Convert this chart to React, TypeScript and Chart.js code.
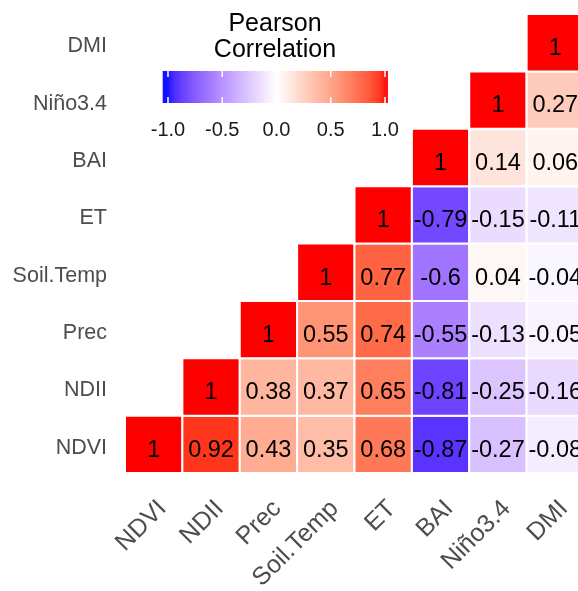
import React, { useEffect, useRef } from "react";
import { Chart, registerables } from "chart.js";

Chart.register(...registerables);

// ---- data ----
const variables = ["NDVI", "NDII", "Prec", "Soil.Temp", "ET", "BAI", "Niño3.4", "DMI"];
// each row starts at its own diagonal cell and runs to DMI
const rowNDVI = [1, 0.92, 0.43, 0.35, 0.68, -0.87, -0.27, -0.08];
const rowNDII = [1, 0.38, 0.37, 0.65, -0.81, -0.25, -0.16];
const rowPrec = [1, 0.55, 0.74, -0.55, -0.13, -0.05];
const rowSoilTemp = [1, 0.77, -0.6, 0.04, -0.04];
const rowET = [1, -0.79, -0.15, -0.11];
const rowBAI = [1, 0.14, 0.06];
const rowNino = [1, 0.27];
const rowDMI = [1];
const corrRows = [rowNDVI, rowNDII, rowPrec, rowSoilTemp, rowET, rowBAI, rowNino, rowDMI];

const legendTitle = ["Pearson", "Correlation"];
const legendTicks = [-1, -0.5, 0, 0.5, 1];

// ---- colour (Lab interpolation like ggplot2) ----
const toLin = (c: number) => {
  c /= 255;
  return c <= 0.04045 ? c / 12.92 : Math.pow((c + 0.055) / 1.055, 2.4);
};
const fromLin = (c: number) => {
  const v = c <= 0.0031308 ? 12.92 * c : 1.055 * Math.pow(c, 1 / 2.4) - 0.055;
  return Math.max(0, Math.min(255, Math.round(v * 255)));
};
const WX = 0.95047, WY = 1.0, WZ = 1.08883;
const f = (t: number) => (t > 216 / 24389 ? Math.cbrt(t) : (24389 / 27 * t + 16) / 116);
const fi = (t: number) => (t * t * t > 216 / 24389 ? t * t * t : (116 * t - 16) / (24389 / 27));
function rgbToLab(rgb: number[]) {
  const r = toLin(rgb[0]), g = toLin(rgb[1]), b = toLin(rgb[2]);
  const X = 0.4124564 * r + 0.3575761 * g + 0.1804375 * b;
  const Y = 0.2126729 * r + 0.7151522 * g + 0.072175 * b;
  const Z = 0.0193339 * r + 0.119192 * g + 0.9503041 * b;
  const fx = f(X / WX), fy = f(Y / WY), fz = f(Z / WZ);
  return [116 * fy - 16, 500 * (fx - fy), 200 * (fy - fz)];
}
function labToRgb(lab: number[]) {
  const fy = (lab[0] + 16) / 116;
  const fx = fy + lab[1] / 500;
  const fz = fy - lab[2] / 200;
  const X = fi(fx) * WX, Y = fi(fy) * WY, Z = fi(fz) * WZ;
  const r = 3.2404542 * X - 1.5371385 * Y - 0.4985314 * Z;
  const g = -0.969266 * X + 1.8760108 * Y + 0.041556 * Z;
  const b = 0.0556434 * X - 0.2040259 * Y + 1.0572252 * Z;
  return [fromLin(r), fromLin(g), fromLin(b)];
}
const LAB_WHITE = rgbToLab([255, 255, 255]);
const LAB_RED = rgbToLab([255, 0, 0]);
const LAB_BLUE = rgbToLab([0, 0, 255]);
function colorFor(v: number) {
  const t = Math.min(1, Math.abs(v));
  const end = v >= 0 ? LAB_RED : LAB_BLUE;
  const lab = LAB_WHITE.map((w, i) => w + (end[i] - w) * t);
  const c = labToRgb(lab);
  return `rgb(${c[0]},${c[1]},${c[2]})`;
}

const FONT = "'Liberation Sans', Arial, Helvetica, sans-serif";
const W = 578, H = 591;
const PLOT_LEFT = 125, PLOT_TOP = 14, PLOT_BOTTOM = 473;
const PITCH = (PLOT_BOTTOM - PLOT_TOP) / variables.length;

const labelsPlugin = {
  id: "corrLabels",
  afterDatasetsDraw(chart: any) {
    const ctx = chart.ctx;
    const xs = chart.scales.x, ys = chart.scales.y;
    ctx.save();
    // cell values
    ctx.fillStyle = "#000";
    ctx.font = `23.5px ${FONT}`;
    ctx.textAlign = "center";
    ctx.textBaseline = "alphabetic";
    const meta = chart.getDatasetMeta(0);
    meta.data.forEach((pt: any, i: number) => {
      const raw = chart.data.datasets[0].data[i];
      ctx.fillText(String(raw.v), pt.x, pt.y + 12.4);
    });
    // y labels
    ctx.fillStyle = "#4D4D4D";
    ctx.font = `21.5px ${FONT}`;
    ctx.textAlign = "right";
    variables.forEach((name, i) => {
      ctx.fillText(name, 107, ys.getPixelForValue(i) + 9.5);
    });
    // x labels, rotated 45°
    ctx.font = `25px ${FONT}`;
    variables.forEach((name, i) => {
      ctx.save();
      ctx.translate(xs.getPixelForValue(i) + 1, 497);
      ctx.rotate(-Math.PI / 4);
      ctx.textAlign = "right";
      ctx.fillText(name, 0, 17.9);
      ctx.restore();
    });
    // legend
    ctx.fillStyle = "#000";
    ctx.textAlign = "center";
    ctx.font = `25px ${FONT}`;
    ctx.fillText(legendTitle[0], 275, 31);
    ctx.fillText(legendTitle[1], 275, 57);
    const barL = 162.7, barR = 388, barT = 71, barB = 103;
    const vx = (v: number) => 276.5 + v * 108.5;
    for (let x = barL; x < barR; x += 1) {
      const v = (x + 0.5 - 276.5) / 108.5;
      ctx.fillStyle = colorFor(Math.max(-1, Math.min(1, v)));
      ctx.fillRect(x, barT, Math.min(1.2, barR - x), barB - barT);
    }
    ctx.strokeStyle = "#fff";
    ctx.lineWidth = 1.5;
    legendTicks.forEach((t) => {
      const x = vx(t);
      ctx.beginPath();
      ctx.moveTo(x, barT);
      ctx.lineTo(x, barT + 6);
      ctx.moveTo(x, barB - 6);
      ctx.lineTo(x, barB);
      ctx.stroke();
    });
    ctx.fillStyle = "#1A1A1A";
    ctx.font = `20px ${FONT}`;
    legendTicks.forEach((t) => {
      ctx.fillText(t.toFixed(1), vx(t), 136);
    });
    ctx.restore();
  },
};

export default function App() {
  const ref = useRef<HTMLCanvasElement | null>(null);
  useEffect(() => {
    if (!ref.current) return;
    const points: any[] = [];
    corrRows.forEach((row, r) => {
      row.forEach((v, k) => {
        points.push({ x: r + k, y: r, v });
      });
    });
    const xMax = -0.5 + (W - PLOT_LEFT) / PITCH;
    const chart = new Chart(ref.current, {
      type: "scatter",
      data: {
        datasets: [
          {
            data: points,
            pointStyle: "rect",
            pointRadius: (c: any) => {
              const s = c.chart.scales.y;
              return Math.abs(s.getPixelForValue(0) - s.getPixelForValue(1)) / Math.SQRT2;
            },
            backgroundColor: (c: any) => (c.raw ? colorFor(c.raw.v) : "#fff"),
            borderColor: "#fff",
            borderWidth: 2,
            clip: false as any,
          } as any,
        ],
      },
      options: {
        responsive: false,
        animation: false,
        events: [],
        layout: { padding: { top: PLOT_TOP, left: 0, right: 0, bottom: 0 } },
        plugins: { legend: { display: false }, tooltip: { enabled: false } },
        scales: {
          x: {
            type: "linear",
            min: -0.5,
            max: xMax,
            ticks: { display: false },
            grid: { display: false },
            border: { display: false },
            afterFit: (s: any) => {
              s.height = H - PLOT_BOTTOM;
            },
          },
          y: {
            type: "linear",
            min: -0.5,
            max: variables.length - 0.5,
            ticks: { display: false },
            grid: { display: false },
            border: { display: false },
            afterFit: (s: any) => {
              s.width = PLOT_LEFT;
            },
          },
        },
      },
      plugins: [labelsPlugin],
    });
    return () => chart.destroy();
  }, []);
  return (
    <div style={{ position: "absolute", left: 0, top: 0, width: W, height: H, background: "#fff" }}>
      <canvas ref={ref} width={W} height={H} style={{ width: W, height: H, display: "block" }} />
    </div>
  );
}
